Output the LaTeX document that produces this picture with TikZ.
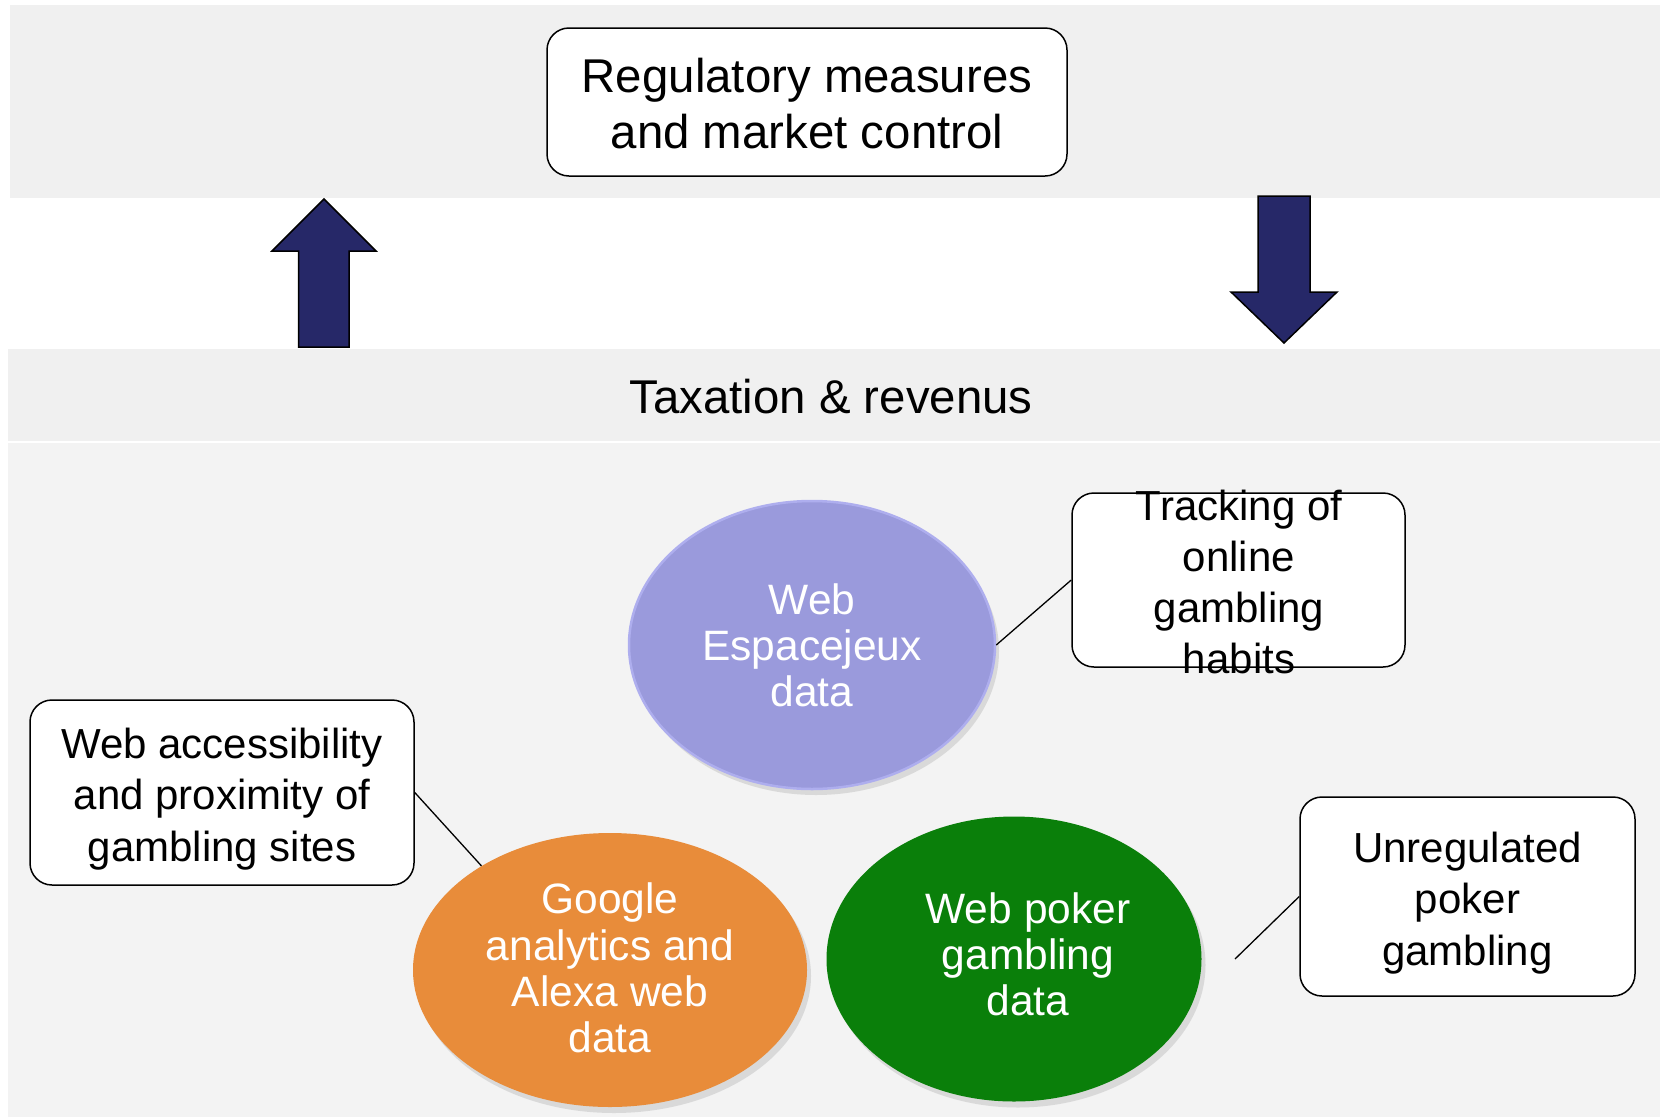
\documentclass[tikz,border=0pt]{standalone}
\usepackage{fontspec}
\setmainfont{Liberation Sans}
\usetikzlibrary{shapes.geometric,shadows}
\definecolor{bandgray}{HTML}{F0F0F0}
\definecolor{panelgray}{HTML}{F3F3F3}
\definecolor{navy}{HTML}{262868}
\definecolor{lav}{HTML}{9A9ADC}
\definecolor{lavrim}{HTML}{AEAEEE}
\definecolor{orng}{HTML}{E88C3A}
\definecolor{grn}{HTML}{0A7F0A}
\tikzset{
  roundbox/.style={draw=black, line width=1.5pt, fill=white, rounded corners=22pt, inner sep=0pt},
  boxtext/.style={inner sep=0pt, align=center, font=\fontsize{42}{51.3}\selectfont},
  blob/.style={ellipse, inner sep=0pt, align=center, text=white, font=\fontsize{42.5}{46.3}\selectfont, drop shadow={shadow xshift=4pt, shadow yshift=-6pt, opacity=0.22}},
  blobtext/.style={inner sep=0pt, align=center, text=white, font=\fontsize{42.5}{46}\selectfont},
  bigarrow/.style={fill=navy, draw=black, line width=1.5pt, line join=miter},
  link/.style={draw=black, line width=1.3pt}
}
\begin{document}
\begin{tikzpicture}[x=1pt,y=-1pt]
\useasboundingbox (0,0) rectangle (1660,1117);
% backgrounds
\fill[bandgray] (10,5) rectangle (1660,198);
\fill[bandgray] (8,349) rectangle (1660,441);
\fill[panelgray] (8,443) rectangle (1660,1117);

% top box
\node[roundbox, minimum width=520pt, minimum height=148pt] (reg) at (807,102) {};
\node[boxtext, font=\fontsize{47.4}{56}\selectfont] (regtext) at (807,104) {Regulatory measures\\and market control};

% taxation
\node[inner sep=0pt, font=\fontsize{47.4}{56}\selectfont] (tax) at (831,397) {Taxation \& revenus};

% big arrows
\draw[bigarrow] (324,199) -- (376,251) -- (349,251) -- (349,347) -- (298.5,347) -- (298.5,251) -- (272,251) -- cycle;
\draw[bigarrow] (1258,196) -- (1310,196) -- (1310,292) -- (1337,292) -- (1284,343) -- (1231,292) -- (1258,292) -- cycle;

% ellipses
\node[blob, fill=lav, draw=lavrim, line width=2.5pt, minimum width=366pt, minimum height=288pt] (espace) at (812,645) {};
\node[blobtext] (espacetext) at (812,645) {Web\\Espacejeux\\data};
\node[blob, fill=orng, minimum width=394pt, minimum height=274pt] (google) at (610,970) {};
\node[blobtext, font=\fontsize{42.5}{46.3}\selectfont] (googletext) at (610,968) {Google\\analytics and\\Alexa web\\data};
\node[blob, fill=grn, minimum width=375pt, minimum height=285pt] (poker) at (1014,959) {};
\node[blobtext] (pokertext) at (1028,954) {Web poker\\gambling\\data};

% side boxes
\node[roundbox, minimum width=333pt, minimum height=174pt] (track) at (1238.5,580) {};
\node[boxtext] (tracktext) at (1239,582) {Tracking of\\online\\gambling\\habits};
\node[roundbox, minimum width=384pt, minimum height=185pt] (access) at (222,792.5) {};
\node[boxtext] (accesstext) at (222,799) {Web accessibility\\and proximity of\\gambling sites};
\node[roundbox, minimum width=335pt, minimum height=199pt] (unreg) at (1467.5,896.5) {};
\node[boxtext] (unregtext) at (1467.5,903) {Unregulated\\poker\\gambling};

% connectors
\draw[link] (espace.east) -- (track.west);
\draw[link] (access.east) -- (google.141);
\coordinate (pk) at (1235,959);
\draw[link] (pk) -- (unreg.west);
\end{tikzpicture}
\end{document}
